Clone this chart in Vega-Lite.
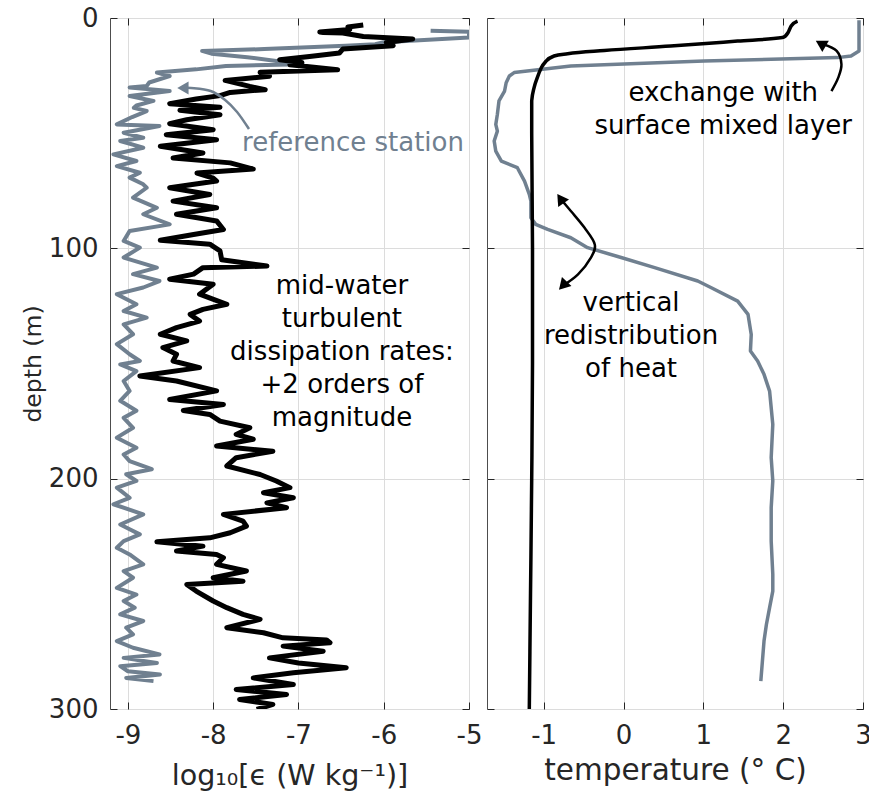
{
  "$schema": "https://vega.github.io/schema/vega-lite/v6.json",
  "padding": {"left": 20, "top": 4, "right": 2, "bottom": 0},
  "config": {
    "font": "DejaVu Sans",
    "view": {"stroke": "#4d4d4d", "strokeWidth": 1},
    "concat": {"spacing": 3},
    "axis": {
      "domain": false,
      "tickSize": -7,
      "tickColor": "#262626",
      "tickWidth": 1,
      "labelFont": "DejaVu Sans",
      "labelFontSize": 26,
      "labelColor": "#262626",
      "labelFlush": false,
      "labelOverlap": false,
      "labelExpr": "replace(datum.label, '−', '-')",
      "titleFont": "DejaVu Sans",
      "titleFontSize": 28.6,
      "titleFontWeight": "normal",
      "titleColor": "#262626",
      "gridColor": "#dcdcdc",
      "gridWidth": 1
    },
    "axisX": {"labelPadding": 20, "titlePadding": 8},
    "axisY": {"labelPadding": 19, "titlePadding": 3}
  },
  "datasets": {
    "eps": [
      {"d": 3.0, "v": -6.24}, {"d": 3.9, "v": -6.42}, {"d": 5.0, "v": -6.40}, {"d": 6.1, "v": -6.75},
      {"d": 6.3, "v": -6.71}, {"d": 6.5, "v": -6.48}, {"d": 8.0, "v": -6.24}, {"d": 9.1, "v": -5.66},
      {"d": 10.6, "v": -5.97}, {"d": 12.0, "v": -5.89}, {"d": 13.5, "v": -6.48}, {"d": 15.2, "v": -6.52},
      {"d": 16.7, "v": -6.87}, {"d": 18.1, "v": -7.22}, {"d": 19.3, "v": -6.96}, {"d": 20.3, "v": -7.10},
      {"d": 22.5, "v": -6.54}, {"d": 23.6, "v": -7.45}, {"d": 25.3, "v": -7.34}, {"d": 27.1, "v": -7.86},
      {"d": 29.7, "v": -7.57}, {"d": 31.1, "v": -7.39}, {"d": 32.3, "v": -7.80}, {"d": 33.7, "v": -7.92},
      {"d": 35.2, "v": -8.20}, {"d": 37.2, "v": -8.51}, {"d": 38.7, "v": -7.92}, {"d": 40.1, "v": -8.39},
      {"d": 42.0, "v": -7.92}, {"d": 44.2, "v": -8.31}, {"d": 45.9, "v": -8.51}, {"d": 48.5, "v": -8.00},
      {"d": 50.7, "v": -8.55}, {"d": 52.9, "v": -7.96}, {"d": 55.7, "v": -8.62}, {"d": 58.6, "v": -8.12},
      {"d": 60.8, "v": -8.47}, {"d": 62.9, "v": -7.80}, {"d": 65.6, "v": -7.53}, {"d": 67.3, "v": -8.19},
      {"d": 69.5, "v": -8.00}, {"d": 70.8, "v": -7.96}, {"d": 73.7, "v": -8.51}, {"d": 76.6, "v": -8.04},
      {"d": 79.5, "v": -8.47}, {"d": 82.4, "v": -7.96}, {"d": 85.2, "v": -8.43}, {"d": 88.1, "v": -7.96},
      {"d": 91.8, "v": -7.88}, {"d": 94.0, "v": -8.23}, {"d": 96.5, "v": -8.62}, {"d": 98.2, "v": -8.04},
      {"d": 101.1, "v": -7.92}, {"d": 105.0, "v": -7.90}, {"d": 107.7, "v": -7.37}, {"d": 108.4, "v": -8.12},
      {"d": 111.2, "v": -8.23}, {"d": 113.4, "v": -8.51}, {"d": 115.6, "v": -8.00}, {"d": 119.9, "v": -8.16},
      {"d": 124.3, "v": -7.84}, {"d": 126.5, "v": -8.12}, {"d": 128.7, "v": -8.27}, {"d": 131.6, "v": -8.16},
      {"d": 134.4, "v": -8.43}, {"d": 137.3, "v": -8.62}, {"d": 140.2, "v": -8.31}, {"d": 143.1, "v": -8.59},
      {"d": 146.0, "v": -8.43}, {"d": 148.9, "v": -8.47}, {"d": 151.8, "v": -8.16}, {"d": 155.4, "v": -8.86},
      {"d": 157.6, "v": -8.43}, {"d": 161.9, "v": -7.96}, {"d": 165.6, "v": -8.51}, {"d": 167.8, "v": -7.88},
      {"d": 170.4, "v": -8.35}, {"d": 172.1, "v": -8.04}, {"d": 175.0, "v": -7.92}, {"d": 177.9, "v": -7.57},
      {"d": 180.8, "v": -7.73}, {"d": 182.9, "v": -7.53}, {"d": 185.8, "v": -7.96}, {"d": 188.1, "v": -7.30},
      {"d": 190.9, "v": -7.73}, {"d": 194.5, "v": -7.84}, {"d": 198.2, "v": -7.45}, {"d": 201.0, "v": -7.26},
      {"d": 203.9, "v": -7.10}, {"d": 206.1, "v": -7.41}, {"d": 208.3, "v": -7.06}, {"d": 210.5, "v": -7.37},
      {"d": 212.6, "v": -7.14}, {"d": 215.5, "v": -7.88}, {"d": 218.4, "v": -7.65}, {"d": 220.6, "v": -7.61},
      {"d": 223.5, "v": -7.80}, {"d": 225.7, "v": -8.04}, {"d": 227.4, "v": -8.66}, {"d": 229.3, "v": -8.12},
      {"d": 231.4, "v": -8.43}, {"d": 232.9, "v": -7.96}, {"d": 234.3, "v": -7.88}, {"d": 237.2, "v": -7.96},
      {"d": 240.1, "v": -7.61}, {"d": 243.0, "v": -8.00}, {"d": 244.5, "v": -7.65}, {"d": 245.9, "v": -8.31},
      {"d": 248.8, "v": -8.20}, {"d": 253.1, "v": -8.00}, {"d": 256.0, "v": -7.84}, {"d": 258.9, "v": -7.65},
      {"d": 261.1, "v": -7.45}, {"d": 264.7, "v": -7.84}, {"d": 266.9, "v": -7.41}, {"d": 269.1, "v": -7.18},
      {"d": 270.0, "v": -6.67}, {"d": 271.2, "v": -6.63}, {"d": 272.7, "v": -7.18}, {"d": 274.9, "v": -6.71},
      {"d": 277.8, "v": -7.34}, {"d": 280.0, "v": -7.00}, {"d": 282.1, "v": -6.44}, {"d": 284.3, "v": -7.06},
      {"d": 286.5, "v": -7.53}, {"d": 289.4, "v": -7.06}, {"d": 291.5, "v": -7.73}, {"d": 293.7, "v": -7.14},
      {"d": 295.9, "v": -7.69}, {"d": 298.0, "v": -7.30}, {"d": 300.2, "v": -7.49}
    ],
    "epsref": [
      {"d": 5.5, "v": -5.45}, {"d": 6.0, "v": -5.0}, {"d": 8.5, "v": -5.0}, {"d": 10.5, "v": -6.0},
      {"d": 11.4, "v": -6.10}, {"d": 12.0, "v": -6.45}, {"d": 13.5, "v": -7.4}, {"d": 14.3, "v": -8.13},
      {"d": 15.5, "v": -8.02}, {"d": 17.0, "v": -7.6}, {"d": 18.7, "v": -7.26}, {"d": 20.1, "v": -6.95},
      {"d": 20.8, "v": -7.85}, {"d": 22.3, "v": -8.20}, {"d": 23.7, "v": -8.66}, {"d": 25.2, "v": -8.51},
      {"d": 26.6, "v": -8.63}, {"d": 28.0, "v": -8.75}, {"d": 29.5, "v": -8.78}, {"d": 30.2, "v": -8.98},
      {"d": 31.7, "v": -8.51}, {"d": 33.9, "v": -8.98}, {"d": 36.0, "v": -8.70}, {"d": 38.0, "v": -8.90},
      {"d": 39.0, "v": -8.93}, {"d": 40.4, "v": -8.78}, {"d": 43.0, "v": -8.95}, {"d": 46.2, "v": -9.13},
      {"d": 46.9, "v": -8.63}, {"d": 49.8, "v": -9.05}, {"d": 52.0, "v": -8.82}, {"d": 53.4, "v": -9.09},
      {"d": 56.3, "v": -8.82}, {"d": 59.2, "v": -9.17}, {"d": 62.1, "v": -8.90}, {"d": 64.3, "v": -9.13},
      {"d": 67.2, "v": -8.86}, {"d": 69.3, "v": -8.98}, {"d": 72.2, "v": -8.82}, {"d": 73.7, "v": -8.78},
      {"d": 78.0, "v": -8.94}, {"d": 82.4, "v": -8.66}, {"d": 85.2, "v": -8.82}, {"d": 89.6, "v": -8.51},
      {"d": 92.5, "v": -8.98}, {"d": 96.8, "v": -9.05}, {"d": 99.7, "v": -8.86}, {"d": 104.0, "v": -9.05},
      {"d": 108.4, "v": -8.66}, {"d": 111.2, "v": -8.94}, {"d": 114.2, "v": -8.63}, {"d": 117.0, "v": -8.82},
      {"d": 119.9, "v": -9.13}, {"d": 124.3, "v": -8.90}, {"d": 127.2, "v": -9.05}, {"d": 130.1, "v": -8.78},
      {"d": 133.0, "v": -9.05}, {"d": 137.3, "v": -8.94}, {"d": 141.6, "v": -9.13}, {"d": 146.0, "v": -8.98},
      {"d": 148.9, "v": -8.86}, {"d": 150.4, "v": -9.09}, {"d": 153.3, "v": -8.90}, {"d": 157.6, "v": -9.05},
      {"d": 161.9, "v": -8.98}, {"d": 166.2, "v": -9.09}, {"d": 170.5, "v": -8.90}, {"d": 173.6, "v": -9.05},
      {"d": 177.9, "v": -8.94}, {"d": 182.2, "v": -9.13}, {"d": 186.6, "v": -8.90}, {"d": 189.5, "v": -9.05},
      {"d": 192.4, "v": -8.98}, {"d": 195.9, "v": -8.72}, {"d": 198.1, "v": -9.02}, {"d": 201.0, "v": -8.90},
      {"d": 203.9, "v": -9.13}, {"d": 208.3, "v": -8.98}, {"d": 211.1, "v": -9.17}, {"d": 215.5, "v": -8.82},
      {"d": 219.9, "v": -9.09}, {"d": 222.0, "v": -8.98}, {"d": 224.2, "v": -8.86}, {"d": 227.1, "v": -9.05},
      {"d": 230.0, "v": -9.13}, {"d": 232.9, "v": -8.98}, {"d": 237.2, "v": -8.82}, {"d": 240.1, "v": -9.05},
      {"d": 243.0, "v": -8.94}, {"d": 247.4, "v": -9.13}, {"d": 250.3, "v": -8.90}, {"d": 253.1, "v": -9.05},
      {"d": 256.0, "v": -8.92}, {"d": 258.9, "v": -9.09}, {"d": 261.8, "v": -8.82}, {"d": 264.7, "v": -9.02},
      {"d": 267.6, "v": -8.94}, {"d": 270.5, "v": -9.13}, {"d": 273.4, "v": -8.94}, {"d": 276.3, "v": -8.63},
      {"d": 277.8, "v": -9.05}, {"d": 280.0, "v": -8.66}, {"d": 281.4, "v": -9.09}, {"d": 283.6, "v": -9.00},
      {"d": 285.0, "v": -8.625}, {"d": 286.5, "v": -9.02}, {"d": 287.9, "v": -8.70}
    ],
    "temp": [
      {"d": 1.4, "t": 2.18}, {"d": 3.5, "t": 2.10}, {"d": 6.4, "t": 2.06}, {"d": 8.5, "t": 1.99},
      {"d": 10.0, "t": 1.43}, {"d": 12.2, "t": 0.59}, {"d": 14.1, "t": -0.24}, {"d": 15.5, "t": -0.70},
      {"d": 16.5, "t": -0.87}, {"d": 18.7, "t": -0.97}, {"d": 21.6, "t": -1.03}, {"d": 25.9, "t": -1.08},
      {"d": 30.2, "t": -1.12}, {"d": 36.0, "t": -1.15}, {"d": 50.0, "t": -1.15}, {"d": 100.0, "t": -1.14},
      {"d": 150.0, "t": -1.14}, {"d": 200.0, "t": -1.15}, {"d": 250.0, "t": -1.165}, {"d": 300.0, "t": -1.18}
    ],
    "tempref": [
      {"d": 1.0, "t": 2.95}, {"d": 14.3, "t": 2.95}, {"d": 16.5, "t": 2.85}, {"d": 17.2, "t": 2.68},
      {"d": 18.7, "t": 1.01}, {"d": 20.8, "t": -0.66}, {"d": 23.7, "t": -1.37}, {"d": 25.2, "t": -1.43},
      {"d": 28.1, "t": -1.47}, {"d": 31.7, "t": -1.49}, {"d": 36.0, "t": -1.56}, {"d": 41.8, "t": -1.58},
      {"d": 46.2, "t": -1.60}, {"d": 49.1, "t": -1.58}, {"d": 53.4, "t": -1.62}, {"d": 57.8, "t": -1.60},
      {"d": 62.1, "t": -1.53}, {"d": 65.0, "t": -1.33}, {"d": 70.8, "t": -1.24}, {"d": 76.6, "t": -1.18},
      {"d": 79.5, "t": -1.16}, {"d": 86.7, "t": -1.16}, {"d": 89.6, "t": -1.10}, {"d": 91.8, "t": -0.95},
      {"d": 95.4, "t": -0.66}, {"d": 99.7, "t": -0.45}, {"d": 104.0, "t": -0.03}, {"d": 108.4, "t": 0.39},
      {"d": 114.2, "t": 0.93}, {"d": 117.1, "t": 1.10}, {"d": 122.9, "t": 1.43}, {"d": 128.7, "t": 1.56},
      {"d": 137.4, "t": 1.60}, {"d": 144.6, "t": 1.59}, {"d": 148.9, "t": 1.68}, {"d": 154.7, "t": 1.76},
      {"d": 162.0, "t": 1.83}, {"d": 169.2, "t": 1.85}, {"d": 176.4, "t": 1.87}, {"d": 190.9, "t": 1.85},
      {"d": 201.0, "t": 1.87}, {"d": 212.6, "t": 1.85}, {"d": 227.1, "t": 1.85}, {"d": 241.5, "t": 1.87},
      {"d": 248.8, "t": 1.87}, {"d": 256.0, "t": 1.83}, {"d": 263.3, "t": 1.79}, {"d": 270.5, "t": 1.76},
      {"d": 287.9, "t": 1.72}
    ],
    "arrowsL": [
      {"a": "ref", "i": 0, "x": -7.58, "d": 48.2}, {"a": "ref", "i": 1, "x": -7.72, "d": 40.8},
      {"a": "ref", "i": 2, "x": -7.86, "d": 35.6}, {"a": "ref", "i": 3, "x": -8.03, "d": 31.7},
      {"a": "ref", "i": 4, "x": -8.26, "d": 30.4}, {"a": "ref", "i": 5, "x": -8.355, "d": 30.4}
    ],
    "arrowsR": [
      {"a": "mixed", "i": 0, "x": 2.605, "d": 31.7}, {"a": "mixed", "i": 1, "x": 2.69, "d": 25.9},
      {"a": "mixed", "i": 2, "x": 2.73, "d": 20.1}, {"a": "mixed", "i": 3, "x": 2.67, "d": 14.3},
      {"a": "mixed", "i": 4, "x": 2.50, "d": 11.4},
      {"a": "redis", "i": 0, "x": -0.79, "d": 78.4}, {"a": "redis", "i": 1, "x": -0.66, "d": 83.8},
      {"a": "redis", "i": 2, "x": -0.49, "d": 91.0}, {"a": "redis", "i": 3, "x": -0.36, "d": 98.3},
      {"a": "redis", "i": 4, "x": -0.41, "d": 104.1}, {"a": "redis", "i": 5, "x": -0.57, "d": 111.3},
      {"a": "redis", "i": 6, "x": -0.76, "d": 116.2}
    ],
    "heads": [
      {"h": "ref", "x": -8.355, "d": 30.4},
      {"h": "mixed", "x": 2.47, "d": 11.1},
      {"h": "redisTop", "x": -0.79, "d": 78.4},
      {"h": "redisBottom", "x": -0.76, "d": 116.2}
    ],
    "notesL": [
      {"n": "ref", "x": -6.36, "d": 54.3, "txt": "reference station"},
      {"n": "mid", "x": -6.49, "d": 116.4, "txt": "mid-water\nturbulent\ndissipation rates:\n+2 orders of\nmagnitude"}
    ],
    "notesR": [
      {"n": "mixed", "x": 1.25, "d": 32.4, "txt": "exchange with\nsurface mixed layer"},
      {"n": "redis", "x": 0.095, "d": 123.8, "txt": "vertical\nredistribution\nof heat"}
    ]
  },
  "hconcat": [
    {
      "width": 359,
      "height": 691,
      "resolve": {"axis": {"x": "independent", "y": "independent"}},
      "layer": [
        {
          "data": {"name": "epsref"},
          "mark": {"type": "line", "color": "#708090", "strokeWidth": 4, "clip": true, "strokeJoin": "round"},
          "encoding": {
            "x": {"field": "v", "type": "quantitative", "scale": {"domain": [-9.21, -5], "nice": false, "zero": false},
                  "axis": {"orient": "top", "labels": false, "grid": false, "title": null, "values": [-9, -8, -7, -6, -5]}},
            "y": {"field": "d", "type": "quantitative", "scale": {"domain": [0, 300], "reverse": true, "nice": false, "zero": false},
                  "axis": {"orient": "right", "labels": false, "grid": false, "title": null, "values": [0, 100, 200, 300]}},
            "order": {"field": "d"}
          }
        },
        {
          "data": {"name": "eps"},
          "mark": {"type": "line", "color": "#000000", "strokeWidth": 5, "clip": true, "strokeJoin": "round"},
          "encoding": {
            "x": {"field": "v", "type": "quantitative", "scale": {"domain": [-9.21, -5], "nice": false, "zero": false},
                  "axis": {"orient": "bottom", "title": "log₁₀[ϵ (W kg⁻¹)]", "values": [-9, -8, -7, -6, -5], "grid": true, "titlePadding": 13}},
            "y": {"field": "d", "type": "quantitative", "scale": {"domain": [0, 300], "reverse": true, "nice": false, "zero": false},
                  "axis": {"orient": "left", "title": "depth (m)", "titleFontSize": 23.5, "values": [0, 100, 200, 300], "grid": true}},
            "order": {"field": "d"}
          }
        },
        {
          "data": {"name": "arrowsL"},
          "mark": {"type": "line", "color": "#708090", "strokeWidth": 2.5, "interpolate": "cardinal", "clip": true},
          "encoding": {
            "x": {"field": "x", "type": "quantitative", "scale": {"domain": [-9.21, -5], "nice": false, "zero": false}, "axis": null},
            "y": {"field": "d", "type": "quantitative", "scale": {"domain": [0, 300], "reverse": true, "nice": false, "zero": false}, "axis": null},
            "order": {"field": "i"}
          }
        },
        {
          "data": {"name": "heads"},
          "transform": [{"filter": "datum.h === 'ref'"}],
          "mark": {"type": "point", "shape": "triangle-up", "filled": true, "opacity": 1, "color": "#708090", "size": 170, "angle": 270},
          "encoding": {
            "x": {"field": "x", "type": "quantitative", "scale": {"domain": [-9.21, -5], "nice": false, "zero": false}, "axis": null},
            "y": {"field": "d", "type": "quantitative", "scale": {"domain": [0, 300], "reverse": true, "nice": false, "zero": false}, "axis": null}
          }
        },
        {
          "data": {"name": "notesL"},
          "transform": [{"filter": "datum.n === 'ref'"}],
          "mark": {"type": "text", "fontSize": 26, "color": "#708090", "align": "center", "baseline": "middle", "font": "DejaVu Sans"},
          "encoding": {
            "x": {"field": "x", "type": "quantitative", "scale": {"domain": [-9.21, -5], "nice": false, "zero": false}, "axis": null},
            "y": {"field": "d", "type": "quantitative", "scale": {"domain": [0, 300], "reverse": true, "nice": false, "zero": false}, "axis": null},
            "text": {"field": "txt"}
          }
        },
        {
          "data": {"name": "notesL"},
          "transform": [{"filter": "datum.n === 'mid'"}],
          "mark": {"type": "text", "fontSize": 26, "color": "#000000", "align": "center", "baseline": "middle", "lineBreak": "\n", "lineHeight": 33, "font": "DejaVu Sans"},
          "encoding": {
            "x": {"field": "x", "type": "quantitative", "scale": {"domain": [-9.21, -5], "nice": false, "zero": false}, "axis": null},
            "y": {"field": "d", "type": "quantitative", "scale": {"domain": [0, 300], "reverse": true, "nice": false, "zero": false}, "axis": null},
            "text": {"field": "txt"}
          }
        }
      ]
    },
    {
      "width": 376,
      "height": 691,
      "resolve": {"axis": {"x": "independent", "y": "independent"}},
      "layer": [
        {
          "data": {"name": "tempref"},
          "mark": {"type": "line", "color": "#708090", "strokeWidth": 3.5, "clip": true, "strokeJoin": "round"},
          "encoding": {
            "x": {"field": "t", "type": "quantitative", "scale": {"domain": [-1.71, 3], "nice": false, "zero": false},
                  "axis": {"orient": "top", "labels": false, "grid": false, "title": null, "values": [-1, 0, 1, 2, 3]}},
            "y": {"field": "d", "type": "quantitative", "scale": {"domain": [0, 300], "reverse": true, "nice": false, "zero": false},
                  "axis": {"orient": "right", "labels": false, "grid": false, "title": null, "values": [0, 100, 200, 300]}},
            "order": {"field": "d"}
          }
        },
        {
          "data": {"name": "temp"},
          "mark": {"type": "line", "color": "#000000", "strokeWidth": 3.5, "clip": true, "interpolate": "monotone", "strokeJoin": "round"},
          "encoding": {
            "x": {"field": "t", "type": "quantitative", "scale": {"domain": [-1.71, 3], "nice": false, "zero": false},
                  "axis": {"orient": "bottom", "title": "temperature (° C)", "titleFontSize": 29.5, "values": [-1, 0, 1, 2, 3], "grid": true}},
            "y": {"field": "d", "type": "quantitative", "scale": {"domain": [0, 300], "reverse": true, "nice": false, "zero": false},
                  "axis": {"orient": "left", "labels": false, "title": null, "values": [0, 100, 200, 300], "grid": true}},
            "order": {"field": "d"}
          }
        },
        {
          "data": {"name": "arrowsR"},
          "mark": {"type": "line", "color": "#000000", "strokeWidth": 2.5, "interpolate": "cardinal", "clip": true},
          "encoding": {
            "x": {"field": "x", "type": "quantitative", "scale": {"domain": [-1.71, 3], "nice": false, "zero": false}, "axis": null},
            "y": {"field": "d", "type": "quantitative", "scale": {"domain": [0, 300], "reverse": true, "nice": false, "zero": false}, "axis": null},
            "detail": {"field": "a"},
            "order": {"field": "i"}
          }
        },
        {
          "data": {"name": "heads"},
          "transform": [{"filter": "datum.h === 'mixed'"}],
          "mark": {"type": "point", "shape": "triangle-up", "filled": true, "opacity": 1, "color": "#000000", "size": 170, "angle": 300},
          "encoding": {
            "x": {"field": "x", "type": "quantitative", "scale": {"domain": [-1.71, 3], "nice": false, "zero": false}, "axis": null},
            "y": {"field": "d", "type": "quantitative", "scale": {"domain": [0, 300], "reverse": true, "nice": false, "zero": false}, "axis": null}
          }
        },
        {
          "data": {"name": "heads"},
          "transform": [{"filter": "datum.h === 'redisTop'"}],
          "mark": {"type": "point", "shape": "triangle-up", "filled": true, "opacity": 1, "color": "#000000", "size": 170, "angle": 326},
          "encoding": {
            "x": {"field": "x", "type": "quantitative", "scale": {"domain": [-1.71, 3], "nice": false, "zero": false}, "axis": null},
            "y": {"field": "d", "type": "quantitative", "scale": {"domain": [0, 300], "reverse": true, "nice": false, "zero": false}, "axis": null}
          }
        },
        {
          "data": {"name": "heads"},
          "transform": [{"filter": "datum.h === 'redisBottom'"}],
          "mark": {"type": "point", "shape": "triangle-up", "filled": true, "opacity": 1, "color": "#000000", "size": 170, "angle": 223},
          "encoding": {
            "x": {"field": "x", "type": "quantitative", "scale": {"domain": [-1.71, 3], "nice": false, "zero": false}, "axis": null},
            "y": {"field": "d", "type": "quantitative", "scale": {"domain": [0, 300], "reverse": true, "nice": false, "zero": false}, "axis": null}
          }
        },
        {
          "data": {"name": "notesR"},
          "mark": {"type": "text", "fontSize": 26, "color": "#000000", "align": "center", "baseline": "middle", "lineBreak": "\n", "lineHeight": 33, "font": "DejaVu Sans"},
          "encoding": {
            "x": {"field": "x", "type": "quantitative", "scale": {"domain": [-1.71, 3], "nice": false, "zero": false}, "axis": null},
            "y": {"field": "d", "type": "quantitative", "scale": {"domain": [0, 300], "reverse": true, "nice": false, "zero": false}, "axis": null},
            "text": {"field": "txt"}
          }
        }
      ]
    }
  ]
}
